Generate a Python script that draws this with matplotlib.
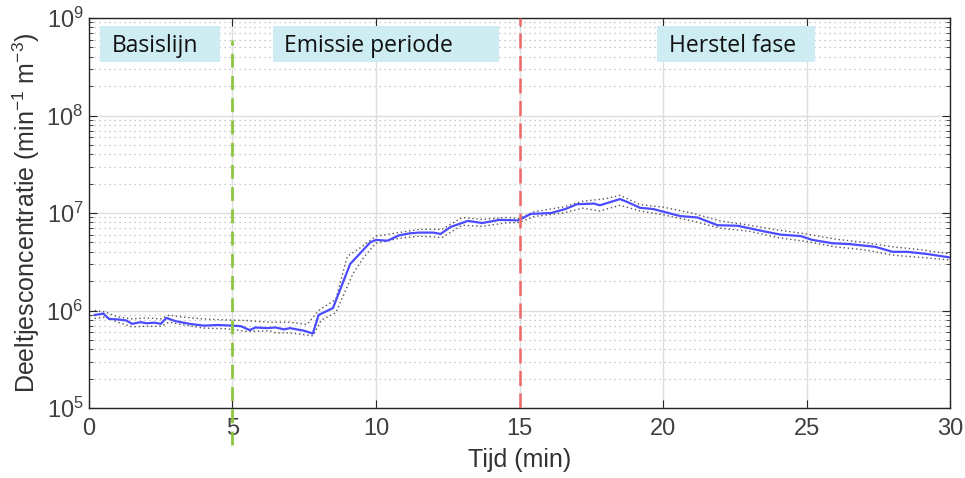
import numpy as np
import matplotlib
matplotlib.use("Agg")
import matplotlib.pyplot as plt
from matplotlib.patches import Rectangle
from matplotlib.ticker import LogLocator, NullFormatter

# gemiddelde concentratie (blauwe lijn)
t_mean = [0.2, 0.5, 0.7, 1.0, 1.3, 1.5, 1.8, 2.0, 2.3, 2.5, 2.7, 3.0, 3.5, 4.0, 4.5,
          5.0, 5.3, 5.6, 5.8, 6.2, 6.5, 6.8, 7.0, 7.5, 7.8, 8.0, 8.5, 9.1, 9.35, 9.8,
          10.0, 10.4, 10.8, 11.2, 11.5, 12.0, 12.25, 12.6, 13.2, 13.7, 14.3, 14.95,
          15.4, 16.1, 16.6, 17.0, 17.6, 17.8, 18.5, 18.75, 19.2, 19.65, 20.6, 21.2,
          21.9, 22.6, 23.5, 24.1, 24.8, 25.2, 25.9, 26.5, 27.4, 28.0, 28.5, 29.2, 30.0]
c_mean = [9.0e5, 9.3e5, 8.2e5, 8.1e5, 7.9e5, 7.3e5, 7.6e5, 7.4e5, 7.5e5, 7.3e5, 8.4e5,
          7.8e5, 7.3e5, 7.0e5, 7.1e5, 7.0e5, 6.9e5, 6.3e5, 6.7e5, 6.6e5, 6.7e5, 6.4e5,
          6.6e5, 6.2e5, 5.8e5, 9.0e5, 1.06e6, 3.0e6, 3.6e6, 5.0e6, 5.3e6, 5.2e6, 5.9e6,
          6.2e6, 6.3e6, 6.3e6, 6.1e6, 7.2e6, 8.3e6, 7.9e6, 8.5e6, 8.4e6, 9.8e6, 1.0e7,
          1.1e7, 1.23e7, 1.25e7, 1.2e7, 1.39e7, 1.3e7, 1.13e7, 1.1e7, 9.3e6, 9.0e6,
          7.5e6, 7.4e6, 6.5e6, 6.0e6, 5.8e6, 5.3e6, 4.9e6, 4.8e6, 4.5e6, 4.0e6, 4.0e6,
          3.8e6, 3.5e6]

# boven- en ondergrens (gestippeld)
t_upper = [0.2, 0.6, 1.0, 1.5, 2.0, 2.5, 2.8, 3.2, 4.0, 4.8, 5.5, 6.2, 7.0, 7.6, 8.0,
           8.6, 9.0, 9.5, 10.0, 10.8, 11.5, 12.3, 13.0, 13.7, 14.5, 15.0, 15.5, 16.5,
           17.2, 18.0, 18.5, 19.2, 20.0, 21.0, 22.0, 23.0, 24.0, 25.0, 26.0, 27.0,
           28.0, 29.0, 30.0]
c_upper = [1.0e6, 9.6e5, 8.6e5, 8.2e5, 8.4e5, 8.2e5, 9.0e5, 8.6e5, 8.2e5, 8.0e5, 7.9e5,
           7.6e5, 7.6e5, 7.2e5, 1.0e6, 1.3e6, 3.6e6, 4.5e6, 5.8e6, 6.3e6, 6.8e6, 6.8e6,
           9.0e6, 8.6e6, 9.0e6, 8.8e6, 1.03e7, 1.15e7, 1.32e7, 1.4e7, 1.52e7, 1.22e7,
           1.15e7, 1.0e7, 8.3e6, 7.5e6, 6.7e6, 6.1e6, 5.4e6, 5.0e6, 4.5e6, 4.2e6, 3.8e6]
t_lower = [0.2, 0.6, 1.0, 1.5, 2.0, 2.5, 2.8, 3.2, 4.0, 4.8, 5.5, 6.3, 6.5, 7.0, 7.8,
           8.1, 8.6, 9.2, 9.6, 10.0, 10.8, 11.5, 12.3, 13.0, 13.7, 14.5, 15.0, 15.5,
           16.5, 17.2, 17.8, 18.5, 19.2, 20.0, 21.0, 22.0, 23.0, 24.0, 25.0, 26.0,
           27.0, 28.0, 29.0, 30.0]
c_lower = [8.3e5, 8.6e5, 7.6e5, 6.8e5, 6.9e5, 6.9e5, 7.6e5, 7.2e5, 6.6e5, 6.5e5, 6.1e5,
           6.2e5, 5.9e5, 5.9e5, 5.5e5, 8.0e5, 9.5e5, 2.4e6, 3.6e6, 4.9e6, 5.5e6, 5.8e6,
           5.6e6, 7.5e6, 7.3e6, 7.9e6, 8.0e6, 9.2e6, 1.0e7, 1.12e7, 1.05e7, 1.2e7,
           1.05e7, 9.6e6, 8.3e6, 7.0e6, 6.5e6, 5.6e6, 5.1e6, 4.5e6, 4.2e6, 3.7e6,
           3.5e6, 3.3e6]

phase_names = ["Basislijn", "Emissie periode", "Herstel fase"]
phase_box_x = [(0.38, 4.56), (6.4, 14.3), (19.8, 25.3)]
phase_text_x = [0.8, 6.8, 20.2]
marker_times = [5, 15]

plt.rcParams["font.family"] = ["Liberation Sans", "DejaVu Sans"]
plt.rcParams["mathtext.fontset"] = "custom"
plt.rcParams["mathtext.rm"] = "Liberation Sans"
plt.rcParams["mathtext.it"] = "Liberation Sans:italic"
plt.rcParams["mathtext.bf"] = "Liberation Sans:bold"

fig = plt.figure(figsize=(9.65, 4.78), dpi=100)
ax = fig.add_axes([0.0922, 0.1464, 0.8923, 0.8159])

ax.plot(t_upper, c_upper, color="#555555", linestyle=(0, (1, 2)), linewidth=1.0)
ax.plot(t_lower, c_lower, color="#555555", linestyle=(0, (1, 2)), linewidth=1.0)
ax.plot(t_mean, c_mean, color="#4b4bff", linewidth=1.6)

ax.set_yscale("log")
ax.set_xlim(0, 30)
ax.set_ylim(1e5, 1e9)
ax.set_xticks([0, 5, 10, 15, 20, 25, 30])
ax.yaxis.set_major_locator(LogLocator(base=10, numticks=10))
ax.yaxis.set_minor_locator(LogLocator(base=10, subs=np.arange(2, 10), numticks=10))
ax.yaxis.set_minor_formatter(NullFormatter())

ax.grid(True, which="major", color="#dddddd", linewidth=1.0, linestyle="-")
ax.grid(True, which="minor", axis="y", color="#bbbbbb", linewidth=0.9, linestyle=(0, (1, 3)))
ax.set_axisbelow(True)

ax.tick_params(which="both", direction="in", top=True, right=True, colors="#262626",
               labelcolor="#404040", labelsize=17)
ax.tick_params(which="major", length=6)
ax.tick_params(which="minor", length=3)
ax.tick_params(axis="x", pad=7)
ax.tick_params(axis="y", pad=4)
for s in ax.spines.values():
    s.set_color("#262626")
    s.set_linewidth(1.0)

ax.set_xlabel("Tijd (min)", fontsize=18, color="#333333", labelpad=6)
ax.set_ylabel("Deeltjesconcentratie (min$^{-1}$ m$^{-3}$)", fontsize=18, color="#333333",
              labelpad=3)

# fase-markeringen
ax.axvline(marker_times[0], ymin=-0.095, ymax=0.944, color="#8dc63f", linestyle=(0, (5, 3)),
           linewidth=2.0, clip_on=False, zorder=5)
ax.axvline(marker_times[1], color="#f06868", linestyle=(0, (6, 3)), linewidth=1.8, zorder=5)

trans = ax.get_xaxis_transform()
for name, (x0, x1), tx in zip(phase_names, phase_box_x, phase_text_x):
    ax.add_patch(Rectangle((x0, 0.887), x1 - x0, 0.092, transform=trans,
                           facecolor="#cdedf2", edgecolor="none", zorder=4))
    ax.text(tx, 0.928, name, transform=trans, fontsize=16.5, family=["Open Sans", "DejaVu Sans"],
            color="#111111", va="center", ha="left", zorder=6)

fig.savefig("out.png", dpi=100)
